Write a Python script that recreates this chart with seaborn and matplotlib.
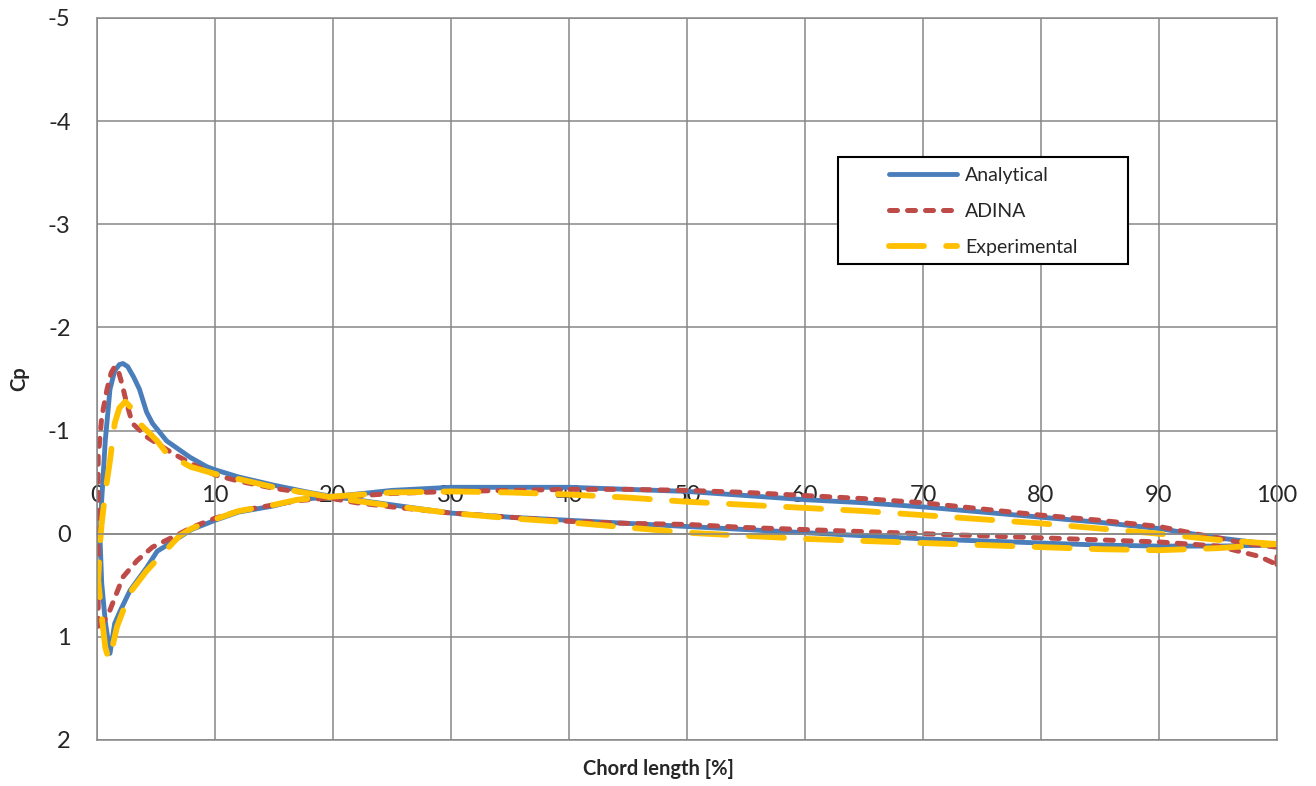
import matplotlib
matplotlib.use("Agg")
import matplotlib.pyplot as plt
import seaborn as sns
import pandas as pd
from matplotlib.patches import Rectangle

# ---------------- data ----------------
analytical_x = [100, 95, 90, 85, 80, 75, 70, 65, 60, 55, 50, 45, 40, 35, 30, 25, 20, 17, 15, 12, 10,
                8, 6.5, 5.1, 4.2, 2.8, 2.0, 1.5, 1.1, 0.7, 0.4, 0.25, 0.4, 0.5, 0.7, 1.1, 1.5, 1.9,
                2.2, 2.6, 3.1, 3.6, 4.2, 4.7, 5.9, 7.9, 9.3, 10, 12, 15, 18, 20, 25, 30, 35, 40, 45,
                50, 55, 60, 65, 70, 75, 80, 85, 90, 95, 100]
analytical_cp = [0.11, 0.04, -0.05, -0.11, -0.16, -0.21, -0.26, -0.30, -0.33, -0.37, -0.41, -0.43, -0.45,
                 -0.45, -0.45, -0.42, -0.36, -0.33, -0.27, -0.21, -0.13,
                 -0.04, 0.07, 0.17, 0.33, 0.55, 0.74, 0.87, 1.16, 0.85, 0.48, 0.03, -0.33, -0.52,
                 -0.90, -1.40, -1.58, -1.64, -1.65, -1.62, -1.52, -1.40, -1.18, -1.07, -0.90, -0.74,
                 -0.65, -0.62, -0.55, -0.47, -0.40, -0.36, -0.28, -0.20, -0.16, -0.13, -0.10,
                 -0.07, -0.04, -0.01, 0.02, 0.05, 0.07, 0.09, 0.11, 0.12, 0.12, 0.11]

adina_x = [100, 100, 97.5, 95, 93.5, 90, 85, 80, 75, 70, 65, 60, 55, 50, 45, 40, 35, 30, 25, 20, 17,
           15, 12, 10, 8, 7, 4.7, 3.4, 2.2, 1.1, 0.5, 0.1, 0.1, 0.1, 0.1, 0.4, 0.85, 1.2, 1.5, 1.8,
           2.1, 2.5, 3.0, 4.2, 6.4, 8, 10, 12, 15, 18, 20, 22, 25, 30, 35, 40, 45, 50, 55, 60, 65,
           70, 75, 80, 85, 90, 95, 98.5, 100]
adina_cp = [0.30, 0.13, 0.10, 0.04, 0.01, -0.07, -0.13, -0.18, -0.24, -0.30, -0.34, -0.37, -0.40, -0.42,
            -0.43, -0.43, -0.42, -0.41, -0.39, -0.35, -0.32, -0.28, -0.22, -0.15, -0.06, 0.0, 0.13,
            0.26, 0.42, 0.74, 0.87, 0.94, 0.3, -0.26, -0.74, -1.13, -1.40, -1.56, -1.62, -1.58,
            -1.46, -1.27, -1.07, -0.94, -0.78, -0.68, -0.57, -0.51, -0.44, -0.39, -0.34, -0.30,
            -0.26, -0.20, -0.16, -0.12, -0.10, -0.09, -0.06, -0.04, -0.02, 0.0, 0.02, 0.04, 0.06,
            0.08, 0.12, 0.22, 0.30]

experimental_x = [100, 95, 90, 85, 80, 75, 70, 65, 60, 55, 50, 45, 40, 35, 30, 25, 20, 17, 15, 12, 10,
                  8, 7, 5.6, 4.2, 2.8, 1.7, 1.3, 1.0, 0.7, 0.4, 0.1, 0.25, 0.4, 0.7, 1.1, 1.5, 1.9,
                  2.4, 2.9, 3.6, 5.1, 5.9, 7.9, 10, 12, 15, 18, 20, 25, 30, 35, 40, 45, 50, 55, 60,
                  65, 70, 75, 80, 85, 90, 95, 100]
experimental_cp = [0.10, 0.06, 0.0, -0.05, -0.10, -0.14, -0.18, -0.22, -0.25, -0.28, -0.31, -0.35, -0.38,
                   -0.40, -0.41, -0.40, -0.36, -0.33, -0.28, -0.22, -0.14,
                   -0.05, 0.02, 0.19, 0.36, 0.57, 0.90, 1.10, 1.22, 1.10, 0.80, 0.45, 0.10, -0.10,
                   -0.40, -0.71, -1.07, -1.22, -1.28, -1.22, -1.07, -0.90, -0.78, -0.65, -0.58, -0.53,
                   -0.45, -0.39, -0.35, -0.27, -0.20, -0.15, -0.11, -0.06, -0.01, 0.02, 0.05, 0.07,
                   0.09, 0.11, 0.13, 0.15, 0.16, 0.14, 0.10]

series_names = ["Analytical", "ADINA", "Experimental"]
x_ticks = [0, 10, 20, 30, 40, 50, 60, 70, 80, 90, 100]
y_ticks = [-5, -4, -3, -2, -1, 0, 1, 2]
x_label = "Chord length [%]"
y_label = "Cp"

# ---------------- style ----------------
sns.set_style("white")
plt.rcParams["font.family"] = ["Lato", "DejaVu Sans"]
plt.rcParams["axes.unicode_minus"] = False

GRID = "#878787"
colors = {"Analytical": "#4A7EBB", "ADINA": "#BE4B48", "Experimental": "#FFC000"}
widths = {"Analytical": 3.5, "ADINA": 3.6, "Experimental": 4.2}
styles = {"Analytical": "-", "ADINA": (0, (1.6, 2.0)), "Experimental": (0, (6.0, 3.8))}

fig = plt.figure(figsize=(13.16, 7.86), dpi=100)
ax = fig.add_axes([97 / 1316, 46 / 786, 1180 / 1316, 722 / 786])

data = {
    "Analytical": (analytical_x, analytical_cp),
    "ADINA": (adina_x, adina_cp),
    "Experimental": (experimental_x, experimental_cp),
}
for name in series_names:
    xs, ys = data[name]
    df = pd.DataFrame({"x": xs, "cp": ys})
    sns.lineplot(data=df, x="x", y="cp", sort=False, estimator=None, ax=ax,
                 color=colors[name], lw=widths[name], linestyle=styles[name],
                 dash_capstyle="round", solid_capstyle="round", solid_joinstyle="round",
                 dash_joinstyle="round", label=name)

ax.set_xlim(0, 100)
ax.set_ylim(2, -5)
ax.set_xticks(x_ticks)
ax.set_yticks(y_ticks)

ax.grid(True, color=GRID, lw=1.1)
ax.set_axisbelow(True)
for s in ["left", "right", "bottom", "top"]:
    ax.spines[s].set_color(GRID)
    ax.spines[s].set_linewidth(1.1)

# x tick labels sit on the Cp = 0 line (Excel style)
ax.xaxis.tick_top()
ax.spines["top"].set_position(("data", 0))
ax.xaxis.set_label_position("bottom")
ax.axhline(-5, color=GRID, lw=1.1, clip_on=False, zorder=0.5)
ax.tick_params(axis="x", length=0, pad=20, labelsize=17)
ax.tick_params(axis="y", length=0, pad=19, labelsize=17)

ax.set_xlabel(x_label, fontsize=14.5, fontweight="bold")
ax.set_ylabel(y_label, fontsize=14.5, fontweight="bold")
ax.xaxis.set_label_coords((658 - 97) / 1180, -0.027)
ax.yaxis.set_label_coords((29 - 97) / 1180, 0.5)

# legend with a plain black box
ax.add_patch(Rectangle(((838 - 97) / 1180, (740 - 264) / 722), 290 / 1180, 107 / 722,
                       transform=ax.transAxes, fill=True, facecolor="white",
                       edgecolor="black", lw=1.5, zorder=5))
leg = ax.legend(loc="upper left", bbox_to_anchor=((889 - 97) / 1180, (740 - 167) / 722),
                frameon=False, fontsize=14, handlelength=3.5, handletextpad=0.4,
                labelspacing=0.98, borderpad=0, borderaxespad=0)
leg.set_zorder(6)

fig.savefig("out.png", dpi=100)
